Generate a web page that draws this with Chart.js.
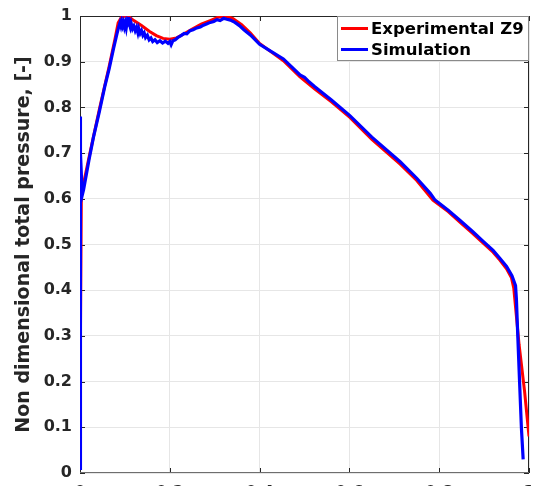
<!DOCTYPE html>
<html><head><meta charset="utf-8">
<script src="https://cdn.jsdelivr.net/npm/chart.js@4/dist/chart.umd.min.js"></script>
<style>
html,body{margin:0;padding:0;background:#fff;overflow:hidden}
#wrap{width:536px;height:486px;overflow:hidden;position:relative;background:#fff}
canvas{display:block}
</style></head><body>
<div id="wrap"><canvas id="c" width="536" height="510"></canvas></div>
<script>
const seriesNames = ['Experimental Z9', 'Simulation'];
const yAxisTitle = 'Non dimensional total pressure, [-]';
const xTickLabels = ['0', '0.2', '0.4', '0.6', '0.8', '1'];
const yTickLabels = ['0', '0.1', '0.2', '0.3', '0.4', '0.5', '0.6', '0.7', '0.8', '0.9', '1'];

const expX = [0, 0.001, 0.003, 0.02, 0.043, 0.065, 0.078, 0.085, 0.092, 0.1, 0.108, 0.12, 0.137, 0.155, 0.17, 0.185, 0.2,
  0.215, 0.23, 0.249, 0.27, 0.29, 0.307, 0.323, 0.34, 0.36, 0.379, 0.4, 0.453, 0.49, 0.523, 0.56, 0.601, 0.65, 0.713,
  0.75, 0.786, 0.82, 0.846, 0.875, 0.898, 0.92, 0.935, 0.95, 0.961, 0.966, 0.978, 0.99, 1.0];
const expY = [0.01, 0.3, 0.61, 0.69, 0.795, 0.89, 0.95, 0.985, 0.997, 1.0, 0.999, 0.99, 0.979, 0.966, 0.957, 0.951, 0.949,
  0.952, 0.96, 0.971, 0.982, 0.99, 0.997, 1.0, 0.995, 0.981, 0.963, 0.94, 0.902, 0.867, 0.84, 0.812, 0.778, 0.73, 0.676,
  0.64, 0.597, 0.572, 0.549, 0.524, 0.503, 0.483, 0.466, 0.447, 0.427, 0.405, 0.28, 0.18, 0.08];

const simX = [0, 0, 0.002, 0.005, 0.008, 0.02, 0.03, 0.043, 0.055, 0.065, 0.075, 0.082, 0.086, 0.089, 0.091, 0.093, 0.095,
  0.097, 0.099, 0.101, 0.103, 0.105, 0.107, 0.108, 0.110, 0.112, 0.114, 0.117, 0.12, 0.123, 0.126, 0.129, 0.131, 0.134,
  0.137, 0.14, 0.143, 0.146, 0.15, 0.154, 0.158, 0.162, 0.167, 0.172, 0.178, 0.184, 0.19, 0.196, 0.2, 0.203, 0.207, 0.212,
  0.218, 0.225, 0.232, 0.238, 0.245, 0.252, 0.26, 0.268, 0.275, 0.283, 0.29, 0.298, 0.305, 0.312, 0.32, 0.327, 0.335,
  0.345, 0.355, 0.365, 0.38, 0.4, 0.42, 0.453, 0.49, 0.5, 0.51, 0.523, 0.56, 0.601, 0.65, 0.713, 0.75, 0.78, 0.79, 0.82,
  0.846, 0.875, 0.898, 0.92, 0.935, 0.95, 0.962, 0.97, 0.972, 0.975, 0.979, 0.983, 0.987];
const simY = [0.01, 0.78, 0.70, 0.608, 0.62, 0.685, 0.735, 0.79, 0.845, 0.885, 0.93, 0.96, 0.975, 0.985, 0.978, 0.988, 0.979,
  0.986, 0.976, 0.984, 0.974, 0.987, 0.98, 0.998, 0.982, 0.975, 0.984, 0.972, 0.978, 0.968, 0.975, 0.963, 0.972, 0.962,
  0.968, 0.958, 0.963, 0.953, 0.958, 0.948, 0.952, 0.944, 0.948, 0.942, 0.946, 0.941, 0.945, 0.94, 0.944, 0.937, 0.946, 0.948,
  0.953, 0.957, 0.962, 0.961, 0.968, 0.97, 0.974, 0.976, 0.98, 0.983, 0.986, 0.988, 0.992, 0.99, 0.995, 0.993, 0.991,
  0.986, 0.979, 0.97, 0.958, 0.938, 0.926, 0.906, 0.871, 0.866, 0.856, 0.845, 0.816, 0.782, 0.735, 0.681, 0.645, 0.612, 0.598, 0.575,
  0.553, 0.528, 0.507, 0.487, 0.47, 0.452, 0.432, 0.41, 0.38, 0.3, 0.2, 0.1, 0.03];

const FONT = '"DejaVu Sans", sans-serif';
const AXIS = '#262626';

const boxPlugin = {
  id: 'boxTicks',
  beforeDatasetsDraw(chart) {
    const {ctx, chartArea: a, scales: {x, y}} = chart;
    ctx.save();
    ctx.lineWidth = 1;
    ctx.strokeStyle = AXIS;
    ctx.beginPath();
    y.ticks.forEach(t => {
      const py = Math.round(y.getPixelForValue(t.value)) + 0.5;
      ctx.moveTo(a.left, py); ctx.lineTo(a.left + 5, py);
      ctx.moveTo(a.right, py); ctx.lineTo(a.right - 5, py);
    });
    x.ticks.forEach(t => {
      const px = Math.round(x.getPixelForValue(t.value)) + 0.5;
      ctx.moveTo(px, a.bottom); ctx.lineTo(px, a.bottom - 5);
      ctx.moveTo(px, a.top); ctx.lineTo(px, a.top + 5);
    });
    ctx.stroke();
    ctx.beginPath();
    ctx.moveTo(a.left + 0.5, a.bottom); ctx.lineTo(a.left + 0.5, a.top + 0.5);
    ctx.lineTo(a.right - 0.5, a.top + 0.5); ctx.lineTo(a.right - 0.5, a.bottom);
    ctx.stroke();
    ctx.strokeStyle = '#6e6e6e';
    ctx.beginPath();
    ctx.moveTo(a.left, a.bottom - 0.5); ctx.lineTo(a.right, a.bottom - 0.5);
    ctx.stroke();
    ctx.restore();
  }
};

const legendPlugin = {
  id: 'boxLegend',
  afterDatasetsDraw(chart) {
    const {ctx, chartArea: a} = chart;
    const w = 192, h = 45;
    const bx = a.right - w, by = a.top;
    ctx.save();
    ctx.fillStyle = '#fff';
    ctx.fillRect(bx, by, w, h);
    ctx.strokeStyle = '#8a8a8a';
    ctx.lineWidth = 1;
    ctx.strokeRect(bx + 0.5, by + 0.5, w - 1, h - 1);
    ctx.font = 'bold 16.5px ' + FONT;
    ctx.textBaseline = 'middle';
    ctx.textAlign = 'left';
    seriesNames.forEach((name, i) => {
      const ds = chart.data.datasets[i];
      const ry = by + 12.5 + i * 21;
      ctx.strokeStyle = ds.borderColor;
      ctx.lineWidth = 3;
      ctx.beginPath();
      ctx.moveTo(bx + 4, ry); ctx.lineTo(bx + 31, ry);
      ctx.stroke();
      ctx.fillStyle = '#000';
      ctx.fillText(name, bx + 34, ry + 1);
    });
    ctx.restore();
  }
};

new Chart(document.getElementById('c'), {
  type: 'scatter',
  data: {
    datasets: [
      {label: seriesNames[0], data: expX.map((v, i) => ({x: v, y: expY[i]})), borderColor: '#ff0000',
       backgroundColor: '#ff0000', borderWidth: 3, showLine: true, pointRadius: 0, tension: 0, order: 2},
      {label: seriesNames[1], data: simX.map((v, i) => ({x: v, y: simY[i]})), borderColor: '#0000ff',
       backgroundColor: '#0000ff', borderWidth: 3.2, showLine: true, pointRadius: 0, tension: 0, order: 1}
    ]
  },
  options: {
    responsive: false,
    animation: false,
    devicePixelRatio: 1,
    layout: {padding: {left: 0, top: 16, right: 7, bottom: 0}},
    plugins: {legend: {display: false}, tooltip: {enabled: false}},
    scales: {
      x: {
        type: 'linear', min: 0, max: 1,
        afterFit(s) { s.height = 37; s.paddingLeft = 0; s.paddingRight = 0; },
        border: {display: false},
        grid: {color: '#e6e6e6', drawTicks: false},
        ticks: {stepSize: 0.2, padding: 10, color: AXIS, font: {family: FONT, weight: 'bold', size: 16},
                maxRotation: 0, callback: (v, i) => xTickLabels[i]}
      },
      y: {
        type: 'linear', min: 0, max: 1,
        afterFit(s) { s.width = 80; s.paddingTop = 0; s.paddingBottom = 0; },
        border: {display: false},
        grid: {color: '#e6e6e6', drawTicks: false},
        ticks: {stepSize: 0.1, padding: 8, color: AXIS, font: {family: FONT, weight: 'bold', size: 16},
                callback: (v, i) => yTickLabels[i]},
        title: {display: true, text: yAxisTitle, color: AXIS, padding: {top: 13, bottom: 0},
                font: {family: FONT, weight: 'bold', size: 19}}
      }
    }
  },
  plugins: [boxPlugin, legendPlugin]
});
</script>
</body></html>
